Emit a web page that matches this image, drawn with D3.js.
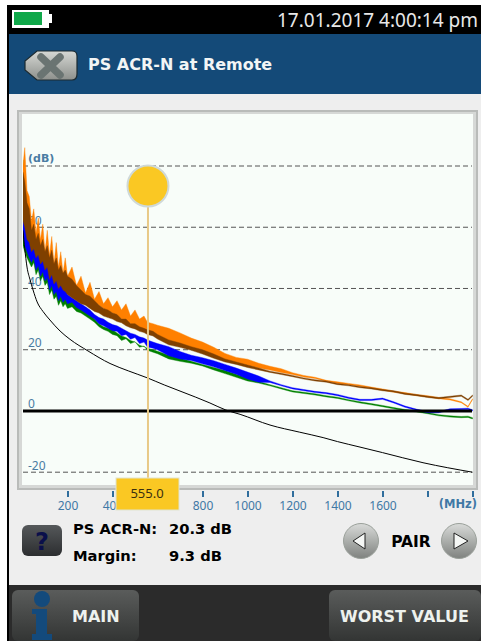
<!DOCTYPE html>
<html><head><meta charset="utf-8">
<script src="https://cdn.jsdelivr.net/npm/d3@7/dist/d3.min.js"></script>
<style>html,body{margin:0;padding:0;background:#fff}svg{display:block}text{font-family:"Noto Sans",sans-serif}</style>
</head><body><div id="c"></div>
<script>
const freqs=[2,10,20,30,40,50,60,70,80,90,
100,110,120,130,140,150,160,170,180,190,
200,220,240,260,280,300,320,340,360,380,
400,420,440,460,480,500,520,540,555,580,
600,650,700,750,800,850,900,950,1000,1050,
1100,1150,1200,1250,1300,1350,1400,1450,1500,1550,
1600,1650,1700,1750,1800,1850,1900,1950,1980,2000];
const orangeHi=[80,86,72,70,62,66,58,63,56,61,
52,59,51,57,48,55,47,52,45,50,
44,47,41,44,38.5,42,36.5,39,35,37,
34,36,33,35,31,33,30,31,29,28.5,
28,27,25.5,23.8,22.5,20.8,18.8,17.5,16.9,15.6,
14.6,13.8,12.5,11.6,11,10,9.5,9,8.5,7.8,
7.2,6.5,6,5.4,5,4.4,4,3,1.5,4];
const orangeLo=[64,62,61,60,57,57,55,55,53,52,
50,49,48,48,46,46,44,44,42,42,
41,40,39,38,37,36.5,35.5,34.5,33.5,32.5,
32,31,30,29.5,28.5,28,27,26.5,25.5,25,
24.5,23,21.5,20.5,19.2,17.8,16.4,15.5,14.9,14,
13.4,12.6,11.9,11.1,10.6,9.7,9,8.6,8.1,7.4,
6.8,6.1,5.6,5,4.6,4,3.6,2.7,1.2,3.7];
const brownHi=[78,75,68,66,59,61,56,58,54,56,
52,54,50,52.5,48,50,46,47.5,45,46,
44,43,41,39.5,38,37.5,36,34.5,33.5,33,
32,31.5,30,30,28.5,28.5,27.5,27,26.5,26,
25,23.2,22.2,21,20,18.6,17,16,15,14,
13,12.3,11.6,10.8,10.2,9.8,9,8.6,8,7.6,
7,6.6,5.8,5.4,4.8,4.4,4.8,5.2,3.8,5.2];
const brownLo=[62,60,56,55,52,53,50,51,48,49,
46,47,43,44.5,41.5,42.5,40,41,39.5,39,
38,37,36,35,34.5,33.5,32.5,32,31,30.5,
30,29.2,28.8,27.8,27.2,26.8,26,25.6,25,24.5,
23.5,21.6,20.8,19.8,18.6,17.2,16,15.2,14.2,13.4,
12.6,11.9,11.2,10.4,9.8,9.4,8.6,8.2,7.6,7.2,
6.6,6.2,5.4,5,4.4,4,4.4,4.8,3.4,4.8];
const blueHi=[80,72,68,63.5,60,58,56,54,52.5,51,
50,48,47,46.5,45,44.5,43,43,41.5,41,
38,37,36,35,34,33,31.5,30.5,30,29,
28.2,27.8,27,26.2,25.4,25,24.2,23.8,23.2,22.5,
22,21,19.4,18.2,17.4,16.4,15.2,14,12.7,11.4,
9.8,8.6,7.6,7,6.4,6,5.4,4.5,3.8,3.8,
4.2,3,1.6,0.6,-0.2,-0.2,0.7,0.8,0.9,0.4];
const blueLo=[58,54,52,50,48.5,50,46,47.5,44,45.5,
42.5,43.5,39.5,41,38,39,36,37.5,35.5,36.5,
35,35.5,33.8,33,32,31,30,28.5,27.8,27,
26.2,26,24.6,25,23.4,24,22,22.5,20.9,20.5,
20,18,17,16.5,15.4,14.4,13.2,12,10.4,9.4,
9.3,8.2,7.2,6.6,6,5.6,5,4.1,3.4,3.4,
3.8,2.6,1.2,0.2,-0.6,-0.6,0.3,0.4,0.5,0];
const greenHi=[82,70,65,60,55,53,51,49,48,46.5,
45.5,44.5,44,42.5,41.5,40.5,39.5,39,38,37,
36.5,36,35,34.5,33.5,31.5,30,28.5,27.5,27,
26.5,25.5,24.5,24,23,22.5,21.5,21,20.5,20,
19.5,18.2,17.2,16.2,15.2,14.2,13.2,12,10.8,9.6,
8.6,7.6,6.6,6.1,5.6,5,4.5,3.7,3,2.4,
1.8,1.1,0.5,0.1,-0.5,-1.2,-1.6,-1.8,-1.7,-2.2];
const greenLo=[54,52,50,48.5,47,48.5,44.5,46,42.5,44,
41,42,38,39.5,36.5,37.5,34.5,36,34,35,
33.5,34,32.5,32,31,30,29,27.5,26.6,26,
25,24.6,23,23.6,22,22.6,20.8,21.2,19.8,19.2,
18.7,17,16.2,15.6,14.7,13.4,12.2,11,9.8,9.1,
8.2,7.2,6.2,5.7,5.2,4.6,4.1,3.3,2.6,2,
1.4,0.7,0.1,-0.3,-0.9,-1.6,-2,-2.2,-2.1,-2.6];
const limitFreqs=[2,10,20,33,47,65,91,122,167,211,291,389,470,555,630,700,770,833,904,967,1100,1230,1336,1400,1500,1600,1780,2000];
const limitDb=[59,53,47,43,39.5,35.6,32.5,29.7,26.1,23.4,19.6,15.5,13.1,10.8,8.5,6.5,4.5,2.6,0.3,-1.1,-4.6,-6.9,-8.7,-10,-11.8,-13.6,-16.9,-20];
const yTicks=[80,60,40,20,0,-20];
const yLabels=["(dB)","60","40","20","0","-20"];
const xTicks=[200,400,600,800,1000,1200,1400,1600,1800,2000];
const xLabels=["200","400","","800","1000","1200","1400","1600","",""];
const cursorFreq=555;
const bands=[["#008000",greenHi,greenLo],["#0000ff",blueHi,blueLo],["#ff8000",orangeHi,orangeLo],["#7f4000",brownHi,brownLo]];

const W=481,H=641;
const svg=d3.select("#c").append("svg").attr("width",W).attr("height",H);
const defs=svg.append("defs");
function grad(id,stops){const g=defs.append("linearGradient").attr("id",id).attr("x1",0).attr("y1",0).attr("x2",0).attr("y2",1);
 stops.forEach(([o,c])=>g.append("stop").attr("offset",o).attr("stop-color",c));}
grad("btn",[[0,"#5a5c5b"],[1,"#333534"]]);
grad("x",[[0,"#d6d8d4"],[1,"#8d908c"]]);
grad("q",[[0,"#55585a"],[1,"#2c2e30"]]);
grad("rnd",[[0,"#d8dad8"],[1,"#7f827f"]]);
const rect=(x,y,w,h,f,r)=>svg.append("rect").attr("x",x).attr("y",y).attr("width",w).attr("height",h).attr("fill",f).attr("rx",r||0);
const txt=(x,y,s,size,fill,weight,anchor)=>{const t=svg.append("text").attr("x",x).attr("y",y).text(s).attr("font-size",size).attr("fill",fill).attr("font-weight",weight||"normal").attr("text-anchor",anchor||"start");
 if(weight==="bold") t.style("font-family",'"DejaVu Sans",sans-serif'); return t;};

// device chrome
rect(7,5,474,636,"#000");
rect(12,10,37,18,"#fff"); rect(14,12,28,13,"#10a84a"); rect(49,14,3,9,"#fff");
txt(277,27,"17.01.2017 4:00:14 pm",19,"#e8e8e8");
rect(9,34,472,60,"#144a78");
rect(9,94,472,491,"#eeeeee");
svg.append("path").attr("d","M37 51 H72 Q77 51 77 56 V74 Q77 80 72 80 H37 L25 70 V61 Z").attr("fill","url(#x)").attr("stroke","#1c2a30").attr("stroke-width",1.2);
svg.append("path").attr("d","M41 57 L60 75 M60 57 L41 75").attr("stroke","#6a7472").attr("stroke-width",7.5).attr("stroke-linecap","round");
txt(88,70,"PS ACR-N at Remote",16,"#f2f5f5","bold");

// plot frame
rect(17,110,461,380,"#b9bbb9");
rect(19,112,457,376,"#d6d8d6");
rect(22,114,451,371,"#f8fdf9");

// scales
const x=d3.scaleLinear().domain([0,2000]).range([22.5,472.5]);
const y=d3.scaleLinear().domain([-20,80]).range([472.2,166]);
const plotL=23,plotR=472;
defs.append("clipPath").attr("id","pc").append("rect").attr("x",plotL).attr("y",114).attr("width",plotR-plotL+1).attr("height",371);

yTicks.forEach((t,i)=>{
  const yy=y(t);
  txt(28,i==0?162:yy-2.5,yLabels[i],i==0?11:12,"#4a7ca3",i==0?"bold":"normal");
  if(t!==0) svg.append("line").attr("x1",plotL).attr("x2",plotR).attr("y1",yy).attr("y2",yy).attr("stroke","#555").attr("stroke-width",1).attr("stroke-dasharray","5 3");
});

const g=svg.append("g").attr("clip-path","url(#pc)");
const area=d3.area().x(d=>x(d.f)).y0(d=>y(d.lo)).y1(d=>y(d.hi));
bands.forEach(([c,hi,lo])=>{
  g.append("path").datum(freqs.map((f,i)=>({f,hi:hi[i],lo:lo[i]})))
   .attr("d",area).attr("fill",c).attr("stroke",c).attr("stroke-width",0.4);
});
g.append("line").attr("x1",plotL).attr("x2",plotR).attr("y1",y(0)).attr("y2",y(0)).attr("stroke","#000").attr("stroke-width",3);
g.append("path").datum(limitFreqs.map((f,i)=>[f,limitDb[i]]))
 .attr("d",d3.line().x(d=>x(d[0])).y(d=>y(d[1])).curve(d3.curveMonotoneX))
 .attr("fill","none").attr("stroke","#000").attr("stroke-width",1);

// x axis
const axis=d3.axisBottom(x).tickValues(xTicks).tickSize(6).tickPadding(4).tickFormat((d,i)=>xLabels[i]);
const ax=svg.append("g").attr("transform","translate(0,491)").call(axis);
ax.select(".domain").remove();
ax.selectAll(".tick line").attr("stroke","#2f6d9c").attr("stroke-width",2);
ax.selectAll(".tick text").attr("fill","#3f78a5").attr("font-size",12).attr("font-family","Noto Sans");
txt(477,508,"(MHz)",11.5,"#3f78a5","bold","end");

// cursor
const cx=x(cursorFreq)+0.6;
svg.append("line").attr("x1",cx).attr("x2",cx).attr("y1",186).attr("y2",478).attr("stroke","#e8c987").attr("stroke-width",2);
svg.append("circle").attr("cx",cx).attr("cy",186).attr("r",20.5).attr("fill","#fac823").attr("stroke","#cfd9d8").attr("stroke-width",2);
svg.append("rect").attr("x",116).attr("y",478).attr("width",63).attr("height",32).attr("fill","#fac823").attr("stroke","#dfe3cf").attr("stroke-width",1);
txt(147,498,"555.0",13,"#3a2f10","normal","middle");

// readouts
svg.append("rect").attr("x",22).attr("y",525).attr("width",40).attr("height",31).attr("rx",6).attr("fill","url(#q)");
txt(42,550,"?",24,"#0a0f4a","bold","middle");
txt(73,534,"PS ACR-N:",14.7,"#000","bold"); txt(169,534,"20.3 dB",14.7,"#000","bold");
txt(73,561,"Margin:",14.7,"#000","bold"); txt(169,561,"9.3 dB",14.7,"#000","bold");
txt(411,547,"PAIR",15.5,"#000","bold","middle");
[[361,"M365 533 L365 549 L353 541 Z"],[459,"M454 533 L454 549 L468 541 Z"]].forEach(([c,p])=>{
  svg.append("circle").attr("cx",c).attr("cy",541).attr("r",17.5).attr("fill","url(#rnd)").attr("stroke","#9aa09a").attr("stroke-width",1);
  svg.append("path").attr("d",p).attr("fill","#f4f6f4").attr("stroke","#222").attr("stroke-width",1);
});

// bottom bar
rect(9,585,472,56,"#2b2b2b");
rect(12,590,127,51,"url(#btn)",6);
rect(329,590,152,51,"url(#btn)",6);
svg.append("circle").attr("cx",42).attr("cy",599).attr("r",8).attr("fill","#134a7c");
svg.append("path").attr("d","M32 609 H47 V634 H52 V640 H32 V634 H36 V614 H32 Z").attr("fill","#134a7c");
txt(72,622,"MAIN",16,"#eef2ee","bold");
txt(340,622,"WORST VALUE",16,"#eef2ee","bold");
</script></body></html>
